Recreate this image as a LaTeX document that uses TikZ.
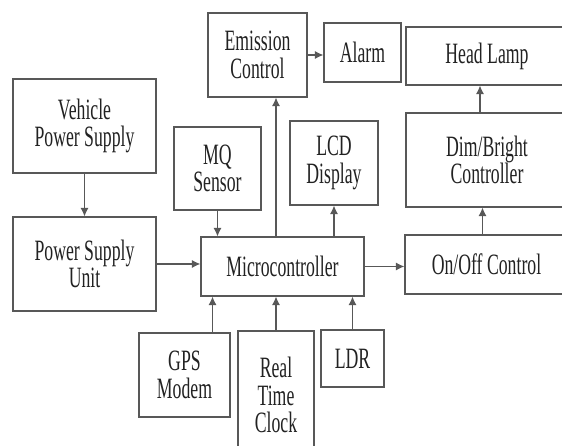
\documentclass[tikz,border=0pt]{standalone}
\usepackage{fontspec}
\setmainfont{Liberation Serif}
\newfontfamily\blockfont[FakeStretch=0.6]{Liberation Serif}
\usetikzlibrary{arrows.meta,positioning}
\definecolor{linegray}{HTML}{585858}
\definecolor{textgray}{HTML}{222222}

\begin{document}
\begin{tikzpicture}[x=0.025cm, y=-0.025cm,
  block/.style={draw=linegray, line width=0.9pt, fill=white, inner sep=0pt, align=center,
    text=textgray, font=\blockfont\fontsize{21}{19.5}\selectfont},
  arr/.style={-{Latex[length=2.1mm,width=2mm]}, draw=linegray, line width=0.8pt}]
  \useasboundingbox (0,0) rectangle (562,446);
  \clip (0,0) rectangle (562,446);
  % supply side
  \node[block, minimum width=3.575cm, minimum height=2.35cm] (vps) at (84.5,126) {Vehicle\\Power Supply};
  \node[block, minimum width=3.575cm, minimum height=2.35cm] (psu) at (84.5,264) {Power Supply\\Unit};
  % centre
  \node[block, minimum width=4.075cm, minimum height=1.475cm] (micro) at (282.5,266.5) {Microcontroller};
  \node[block, minimum width=2.175cm, minimum height=2.075cm] (mq) at (217.5,168.5) {MQ\\Sensor};
  \node[block, minimum width=2.475cm, minimum height=2.1cm] (emis) at (257.5,55) {Emission\\Control};
  \node[block, minimum width=1.925cm, minimum height=1.475cm] (alarm) at (362.5,52.5) {Alarm};
  \node[block, minimum width=2.2cm, minimum height=2.1cm] (lcd) at (334,163) {LCD\\Display};
  % inputs below
  \node[block, minimum width=2.275cm, minimum height=2.1cm] (gps) at (184.5,375) {GPS\\Modem};
  \node[block, minimum width=1.9cm, minimum height=3.2cm] (rtc) at (276,395) {Real\\Time\\Clock};
  \node[block, minimum width=1.575cm, minimum height=1.425cm] (ldr) at (352.5,358.5) {LDR};
  % lamp side
  \node[block, minimum width=4.05cm, minimum height=1.45cm] (head) at (487,56) {Head Lamp};
  \node[block, minimum width=4.05cm, minimum height=2.35cm] (dim) at (487,160) {Dim/Bright\\Controller};
  \node[block, minimum width=4.075cm, minimum height=1.475cm] (onoff) at (486.5,264.5) {On/Off Control};
  \coordinate (gpsin) at ([xshift=0.7cm]gps.north);
  \coordinate (dimin) at ([xshift=-0.1cm]onoff.north);
  \coordinate (headin) at ([xshift=-0.175cm]dim.north);

  \draw[arr] (vps) -- (psu);
  \draw[arr] (psu.east) -- (psu.east -| micro.west);
  \draw[arr] (mq) -- (mq |- micro.north);
  \draw[arr] (rtc |- micro.north) -- (rtc |- emis.south);
  \draw[arr] (emis.east) -- (emis.east -| alarm.west);
  \draw[arr] (lcd |- micro.north) -- (lcd.south);
  \draw[arr] (micro.east) -- (micro.east -| onoff.west);
  \draw[arr] (dimin) -- (dimin |- dim.south);
  \draw[arr] (headin) -- (headin |- head.south);
  \draw[arr] (gpsin) -- (gpsin |- micro.south);
  \draw[arr] (rtc) -- (rtc |- micro.south);
  \draw[arr] (ldr) -- (ldr |- micro.south);
\end{tikzpicture}
\end{document}
